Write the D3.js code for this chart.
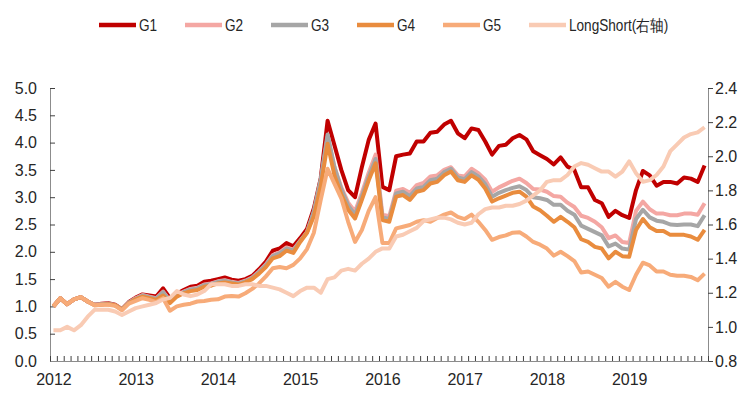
<!DOCTYPE html>
<html>
<head>
<meta charset="utf-8">
<script src="https://cdn.jsdelivr.net/npm/d3@7"></script>
<style>
  html, body { margin: 0; padding: 0; background: #fff; }
  svg text { font-family: "Liberation Sans", Arial, sans-serif; fill: #262626; }
</style>
</head>
<body>
<svg id="chart" width="753" height="399"></svg>
<script>
// monthly values, 2012-01 .. 2019-12
const years = ['2012', '2013', '2014', '2015', '2016', '2017', '2018', '2019'];
const seriesNames = ['G1', 'G2', 'G3', 'G4', 'G5', 'LongShort(右轴)'];

const g1 = [
  1.00, 1.15, 1.04, 1.13, 1.17, 1.09, 1.03, 1.05, 1.06, 1.03, 0.95, 1.08,
  1.16, 1.22, 1.20, 1.18, 1.33, 1.15, 1.23, 1.30, 1.36, 1.38, 1.45, 1.47,
  1.50, 1.53, 1.49, 1.47, 1.50, 1.56, 1.68, 1.82, 2.02, 2.06, 2.16, 2.10,
  2.25, 2.42, 2.80, 3.35, 4.40, 3.95, 3.50, 3.13, 3.00, 3.55, 4.05, 4.35,
  3.19, 3.13, 3.75, 3.78, 3.80, 4.02, 4.02, 4.18, 4.20, 4.33, 4.40, 4.17,
  4.08, 4.26, 4.23, 4.02, 3.78, 3.94, 3.96, 4.08, 4.14, 4.06, 3.84, 3.77,
  3.70, 3.60, 3.73, 3.56, 3.50, 3.18, 3.18, 2.95, 2.89, 2.64, 2.75, 2.67,
  2.62, 3.13, 3.48, 3.40, 3.21, 3.28, 3.28, 3.25, 3.36, 3.34, 3.28, 3.58
];
const g2 = [
  1.00, 1.15, 1.04, 1.13, 1.17, 1.09, 1.03, 1.04, 1.05, 1.02, 0.95, 1.07,
  1.15, 1.21, 1.18, 1.15, 1.27, 1.11, 1.21, 1.27, 1.32, 1.34, 1.40, 1.42,
  1.46, 1.48, 1.45, 1.43, 1.47, 1.53, 1.64, 1.77, 1.94, 1.99, 2.08, 2.04,
  2.20, 2.36, 2.72, 3.30, 4.10, 3.55, 3.18, 2.90, 2.74, 3.08, 3.45, 3.78,
  2.68, 2.65, 3.12, 3.15, 3.08, 3.22, 3.26, 3.38, 3.40, 3.50, 3.55, 3.40,
  3.38, 3.52, 3.44, 3.32, 3.10, 3.18, 3.24, 3.30, 3.34, 3.26, 3.15, 3.14,
  3.10, 3.02, 3.01, 2.90, 2.82, 2.66, 2.62, 2.55, 2.45, 2.25, 2.30, 2.18,
  2.16, 2.75, 2.92, 2.78, 2.70, 2.70, 2.67, 2.67, 2.70, 2.70, 2.68, 2.89
];
const g3 = [
  1.00, 1.15, 1.04, 1.13, 1.17, 1.09, 1.03, 1.04, 1.05, 1.02, 0.95, 1.07,
  1.14, 1.20, 1.17, 1.14, 1.26, 1.10, 1.20, 1.26, 1.31, 1.33, 1.39, 1.41,
  1.45, 1.47, 1.44, 1.42, 1.46, 1.52, 1.63, 1.76, 1.92, 1.97, 2.06, 2.02,
  2.20, 2.36, 2.75, 3.33, 4.15, 3.55, 3.15, 2.85, 2.68, 3.02, 3.38, 3.70,
  2.63, 2.60, 3.07, 3.10, 3.02, 3.16, 3.19, 3.31, 3.34, 3.46, 3.52, 3.36,
  3.33, 3.46, 3.38, 3.24, 3.01, 3.08, 3.13, 3.17, 3.20, 3.13, 3.00, 2.98,
  2.95, 2.86, 2.86, 2.75, 2.68, 2.48, 2.42, 2.36, 2.30, 2.10, 2.15, 2.06,
  2.04, 2.60, 2.77, 2.63, 2.57, 2.55, 2.50, 2.49, 2.50, 2.50, 2.47, 2.67
];
const g4 = [
  1.00, 1.15, 1.04, 1.13, 1.17, 1.09, 1.02, 1.03, 1.04, 1.02, 0.94, 1.06,
  1.13, 1.18, 1.15, 1.12, 1.20, 1.06, 1.18, 1.24, 1.28, 1.30, 1.36, 1.38,
  1.42, 1.44, 1.42, 1.40, 1.44, 1.50, 1.60, 1.72, 1.88, 1.92, 2.02, 1.98,
  2.18, 2.35, 2.65, 3.20, 3.98, 3.40, 3.05, 2.77, 2.61, 2.95, 3.31, 3.62,
  2.58, 2.55, 3.01, 3.04, 2.95, 3.10, 3.13, 3.25, 3.28, 3.40, 3.47, 3.31,
  3.28, 3.40, 3.32, 3.16, 2.92, 2.98, 3.03, 3.08, 3.10, 3.01, 2.83, 2.76,
  2.66, 2.55, 2.64, 2.55, 2.45, 2.23, 2.18, 2.09, 2.06, 1.88, 2.00, 1.92,
  1.91, 2.40, 2.60, 2.45, 2.38, 2.38, 2.31, 2.31, 2.31, 2.28, 2.22, 2.40
];
const g5 = [
  1.00, 1.15, 1.04, 1.13, 1.17, 1.09, 1.02, 1.03, 1.03, 1.01, 0.93, 1.05,
  1.10, 1.15, 1.12, 1.08, 1.15, 0.92, 1.00, 1.03, 1.05, 1.09, 1.10, 1.12,
  1.13, 1.18, 1.19, 1.18, 1.24, 1.32, 1.42, 1.55, 1.70, 1.72, 1.70, 1.76,
  1.88, 2.05, 2.35, 2.95, 3.52, 3.25, 2.98, 2.55, 2.18, 2.40, 2.75, 3.00,
  2.16, 2.16, 2.43, 2.46, 2.49, 2.55, 2.58, 2.55, 2.62, 2.68, 2.72, 2.64,
  2.60, 2.68, 2.55, 2.40, 2.22, 2.27, 2.30, 2.35, 2.36, 2.28, 2.18, 2.13,
  2.06, 1.93, 2.00, 1.92, 1.83, 1.62, 1.64, 1.58, 1.52, 1.36, 1.45, 1.36,
  1.30, 1.58, 1.80, 1.75, 1.64, 1.64, 1.58, 1.56, 1.56, 1.54, 1.48, 1.60
];
// right axis
const longShort = [
  0.98, 0.98, 1.00, 0.98, 1.01, 1.06, 1.10, 1.10, 1.10, 1.09, 1.07, 1.09,
  1.11, 1.12, 1.13, 1.14, 1.16, 1.17, 1.21, 1.19, 1.18, 1.19, 1.21, 1.25,
  1.25, 1.25, 1.24, 1.24, 1.25, 1.25, 1.24, 1.24, 1.23, 1.22, 1.20, 1.18,
  1.21, 1.23, 1.23, 1.20, 1.28, 1.29, 1.33, 1.34, 1.33, 1.37, 1.40, 1.44,
  1.46, 1.46, 1.53, 1.54, 1.56, 1.58, 1.62, 1.63, 1.64, 1.64, 1.63, 1.61,
  1.60, 1.61, 1.66, 1.69, 1.70, 1.70, 1.71, 1.71, 1.72, 1.74, 1.77, 1.80,
  1.85, 1.86, 1.86, 1.89, 1.94, 1.96, 1.95, 1.93, 1.91, 1.91, 1.88, 1.91,
  1.97, 1.90, 1.85, 1.86, 1.89, 1.94, 2.03, 2.07, 2.11, 2.13, 2.14, 2.17
];

const leftTicks = [0, 0.5, 1, 1.5, 2, 2.5, 3, 3.5, 4, 4.5, 5];
const rightTicks = [0.8, 1.0, 1.2, 1.4, 1.6, 1.8, 2.0, 2.2, 2.4];
const colors = ['#c00000', '#f4a7a3', '#a6a6a6', '#e98c3e', '#f7ab79', '#f9cbb4'];

const svg = d3.select('#chart');
const margin = { top: 88, right: 45, bottom: 38, left: 50 };
const W = 753, H = 399;
const n = g1.length;

const x = d3.scaleLinear().domain([0, n]).range([margin.left, W - margin.right]);
const y = d3.scaleLinear().domain([0, 5]).range([H - margin.bottom, margin.top]);
const yR = d3.scaleLinear().domain([0.8, 2.4]).range([H - margin.bottom, margin.top]);

const axisColor = '#8c8c8c';

// left axis, ticks inside
const gl = svg.append('g')
  .attr('transform', `translate(${margin.left},0)`)
  .call(d3.axisLeft(y).tickValues(leftTicks).tickFormat(d3.format('.1f')).tickSizeInner(-5).tickSizeOuter(0).tickPadding(13));

// right axis
const gr = svg.append('g')
  .attr('transform', `translate(${W - margin.right},0)`)
  .call(d3.axisRight(yR).tickValues(rightTicks).tickFormat(d3.format('.1f')).tickSizeInner(5).tickSizeOuter(0).tickPadding(2));

// bottom axis: month ticks and year labels
const gb = svg.append('g')
  .attr('transform', `translate(0,${H - margin.bottom})`)
  .call(d3.axisBottom(x).tickValues(d3.range(0, n + 1)).tickFormat('').tickSizeInner(-5).tickSizeOuter(0));

const gy = svg.append('g')
  .attr('transform', `translate(0,${H - margin.bottom})`)
  .call(d3.axisBottom(x).tickValues(years.map((d, i) => i * 12 + 0.5)).tickFormat((d, i) => years[i]).tickSize(0).tickPadding(13));
gy.select('.domain').remove();

[gl, gr, gb].forEach(g => {
  g.select('.domain').attr('stroke', axisColor);
  g.selectAll('.tick line').attr('stroke', '#404040');
});
svg.selectAll('.tick text').attr('font-size', 16).attr('fill', '#262626')
  .style('font-family', '"Liberation Sans", Arial, sans-serif');

// lines
const lineL = d3.line().x((d, i) => x(i + 0.5)).y(d => y(d));
const lineR = d3.line().x((d, i) => x(i + 0.5)).y(d => yR(d));

const all = [g1, g2, g3, g4, g5];
all.forEach((s, k) => {
  svg.append('path')
    .datum(s)
    .attr('fill', 'none')
    .attr('stroke', colors[k])
    .attr('stroke-width', 4)
    .attr('stroke-linejoin', 'round')
    .attr('d', lineL);
});
svg.append('path')
  .datum(longShort)
  .attr('fill', 'none')
  .attr('stroke', colors[5])
  .attr('stroke-width', 4)
  .attr('stroke-linejoin', 'round')
  .attr('d', lineR);

// legend (narrow text like the source)
const legend = svg.append('g').attr('transform', 'translate(99,25)');
const item = legend.selectAll('g')
  .data(seriesNames)
  .enter().append('g')
  .attr('transform', (d, i) => `translate(${i * 86},0)`);
item.append('line')
  .attr('x1', 0).attr('x2', 37).attr('y1', 0).attr('y2', 0)
  .attr('stroke', (d, i) => colors[i])
  .attr('stroke-width', 4.5);
item.append('text')
  .attr('transform', 'translate(40,6) scale(0.85,1)')
  .attr('font-size', 16)
  .text(d => d);
</script>
</body>
</html>
